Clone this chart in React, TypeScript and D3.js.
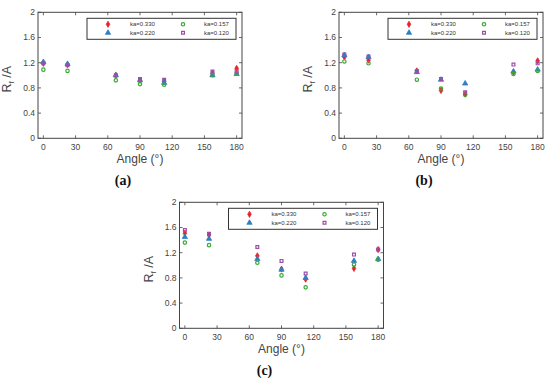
import React from "react";
import * as d3 from "d3";

const angles = [0, 22.5, 67.5, 90, 112.5, 157.5, 180];
const seriesNames = ["ka=0.330", "ka=0.220", "ka=0.157", "ka=0.120"];
const xTicks = [0, 30, 60, 90, 120, 150, 180];
const yTicks = [0, 0.4, 0.8, 1.2, 1.6, 2];

const a330 = [1.19, 1.17, 1.0, 0.92, 0.9, 1.03, 1.11];
const a220 = [1.21, 1.18, 1.0, 0.92, 0.88, 1.0, 1.02];
const a157 = [1.09, 1.07, 0.92, 0.86, 0.85, 1.0, 1.03];
const a120 = [1.19, 1.16, 1.0, 0.94, 0.93, 1.06, 1.07];

const b330 = [1.29, 1.24, 1.07, 0.76, 0.7, 1.05, 1.23];
const b220 = [1.32, 1.29, 1.05, 0.93, 0.87, 1.06, 1.09];
const b157 = [1.22, 1.19, 0.93, 0.79, 0.69, 1.02, 1.07];
const b120 = [1.33, 1.3, 1.07, 0.94, 0.73, 1.17, 1.19];

const c330 = [1.51, 1.48, 1.15, 0.94, 0.78, 0.95, 1.25];
const c220 = [1.45, 1.42, 1.1, 0.93, 0.8, 1.07, 1.1];
const c157 = [1.36, 1.32, 1.04, 0.84, 0.65, 1.01, 1.09];
const c120 = [1.56, 1.5, 1.29, 1.07, 0.87, 1.17, 1.25];

const colors = ["#e3262b", "#2f7fc1", "#3aaa35", "#9b4fa8"];
const symbols = [d3.symbolDiamond, d3.symbolTriangle, d3.symbolCircle, d3.symbolSquare];
const filled = [true, true, false, false];
const sizes = [11, 12, 9, 8];

const W = 204;
const H = 126;
const axisColor = "#444";
const font = "'Liberation Sans', Arial, sans-serif";

function Marker({ i, x, y }: { i: number; x: number; y: number }) {
  const p = d3.symbol().type(symbols[i]).size(sizes[i])()!;
  return (
    <path
      d={p}
      transform={`translate(${x},${y})`}
      fill={filled[i] ? colors[i] : "none"}
      stroke={colors[i]}
      strokeWidth={filled[i] ? 0.8 : 1.2}
    />
  );
}

function Panel({ ox, oy, data, label }: { ox: number; oy: number; data: number[][]; label: string }) {
  const x = d3.scaleLinear().domain([-5, 185]).range([0, W]);
  const y = d3.scaleLinear().domain([0, 2]).range([H, 0]);
  const tl = 3;
  return (
    <g transform={`translate(${ox},${oy})`} fontFamily={font}>
      {data.map((vals, si) =>
        vals.map((v, k) => <Marker key={`${si}-${k}`} i={si} x={x(angles[k])} y={y(v)} />)
      )}
      {xTicks.map((t) => (
        <g key={`xt${t}`}>
          <line x1={x(t)} x2={x(t)} y1={H} y2={H - tl} stroke={axisColor} strokeWidth={0.8} />
          <line x1={x(t)} x2={x(t)} y1={0} y2={tl} stroke={axisColor} strokeWidth={0.8} />
          <text x={x(t)} y={H + 12} fontSize={8.5} fill="#444" textAnchor="middle">
            {t}
          </text>
        </g>
      ))}
      {yTicks.map((t) => (
        <g key={`yt${t}`}>
          <line x1={0} x2={tl} y1={y(t)} y2={y(t)} stroke={axisColor} strokeWidth={0.8} />
          <line x1={W} x2={W - tl} y1={y(t)} y2={y(t)} stroke={axisColor} strokeWidth={0.8} />
          <text x={-3} y={y(t) + 3} fontSize={8.5} fill="#444" textAnchor="end">
            {d3.format("~g")(t)}
          </text>
        </g>
      ))}
      <rect x={0} y={0} width={W} height={H} fill="none" stroke={axisColor} strokeWidth={1} />
      <rect x={49} y={6} width={149} height={21} fill="white" stroke="#333" strokeWidth={1} />
      {seriesNames.map((nm, i) => {
        const col = i === 0 || i === 1 ? 0 : 1;
        const row = i === 0 || i === 2 ? 0 : 1;
        const mx = col === 0 ? 70 : 145;
        const tx = col === 0 ? 92 : 166;
        const ry = row === 0 ? 12 : 20.5;
        return (
          <g key={nm}>
            <Marker i={i} x={mx} y={ry} />
            <text x={tx} y={ry + 2.2} fontSize={6} fill="#333">
              {nm}
            </text>
          </g>
        );
      })}
      <text x={W / 2} y={H + 25} fontSize={12} fill="#444" textAnchor="middle">
        Angle (°)
      </text>
      <text
        transform={`translate(${-27},${H / 2 + 4}) rotate(-90)`}
        fontSize={12.5}
        fill="#444"
        textAnchor="middle"
      >
        R
        <tspan fontSize={8} dy={3}>
          f
        </tspan>
        <tspan dy={-3}> /A</tspan>
      </text>
      <text
        x={W / 2 - 17}
        y={H + 47}
        fontSize={14}
        fontWeight="bold"
        fontFamily="'Liberation Serif', 'Times New Roman', serif"
        fill="#111"
        textAnchor="middle"
      >
        {label}
      </text>
    </g>
  );
}

export default function App() {
  return (
    <svg
      width={550}
      height={383}
      style={{ position: "absolute", left: 0, top: 0, background: "white" }}
    >
      <rect width={550} height={383} fill="white" />
      <Panel ox={38} oy={12.3} data={[a330, a220, a157, a120]} label="(a)" />
      <Panel ox={339} oy={12.3} data={[b330, b220, b157, b120]} label="(b)" />
      <Panel ox={179.5} oy={202.3} data={[c330, c220, c157, c120]} label="(c)" />
    </svg>
  );
}
